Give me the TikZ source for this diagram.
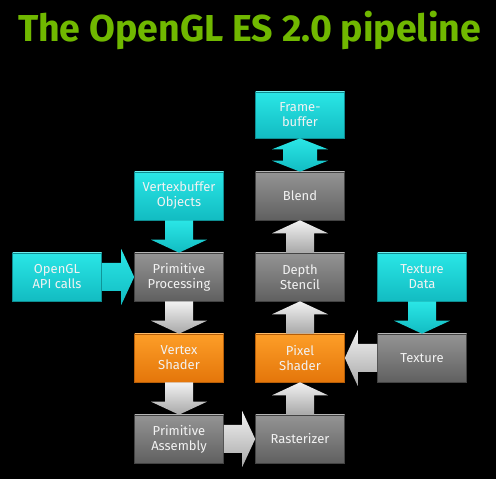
\documentclass[tikz,border=0pt]{standalone}
\usepackage{fontspec}
\setmainfont{Fira Sans}
\usetikzlibrary{positioning}
\usetikzlibrary{calc}
\definecolor{nvgreen}{RGB}{112,184,0}
\definecolor{cyanhi}{RGB}{42,230,230}
\definecolor{cyanlo}{RGB}{18,188,194}
\definecolor{grayhi}{RGB}{148,148,148}
\definecolor{graylo}{RGB}{96,96,96}
\definecolor{orangehi}{RGB}{253,158,40}
\definecolor{orangelo}{RGB}{228,118,10}
\definecolor{arrowhi}{RGB}{242,242,242}
\definecolor{arrowlo}{RGB}{168,168,168}
\definecolor{labeltext}{RGB}{242,242,242}
\tikzset{
stage/.style=
    { % Common look of every pipeline box
        rectangle,
        minimum width=89pt,
        minimum height=48pt,
        inner sep=1pt,
        align=center,
        text=labeltext,
        font=\fontsize{13}{15}\selectfont,
        line width=0.6pt,
        path picture={\draw[white,opacity=0.3,line width=2pt]
            (path picture bounding box.north west) -- (path picture bounding box.north east);}
    },
input/.style={stage, top color=cyanhi, bottom color=cyanlo, draw=cyanlo!75!black}, % Data fed in
fixed/.style={stage, top color=grayhi, bottom color=graylo, draw=graylo!70!black}, % Fixed function
shader/.style={stage, top color=orangehi, bottom color=orangelo, draw=orangelo!80!black}, % Programmable
fatpt/.style={shift={(\p1)}, rotate=\n1}, % Frame along the arrow
flow/.style={ % Block arrow from start to target
        draw=none,
        top color=arrowhi,
        bottom color=arrowlo,
        to path={let \p1=(\tikztostart), \p2=(\tikztotarget),
            \n1={atan2(\y2-\y1,\x2-\x1)}, \n2={veclen(\x2-\x1,\y2-\y1)} in
            ([fatpt]0,14) -- ([fatpt]\n2-13,14) -- ([fatpt]\n2-13,28) -- ([fatpt]\n2,0)
            -- ([fatpt]\n2-13,-28) -- ([fatpt]\n2-13,-14) -- ([fatpt]0,-14) -- cycle}
    },
feed/.style={flow, top color=cyanhi, bottom color=cyanlo}, % Cyan block arrow
swap/.style={ % Block arrow with two heads
        draw=none,
        top color=cyanhi,
        bottom color=cyanlo,
        to path={let \p1=(\tikztostart), \p2=(\tikztotarget),
            \n1={atan2(\y2-\y1,\x2-\x1)}, \n2={veclen(\x2-\x1,\y2-\y1)} in
            ([fatpt]0,0) -- ([fatpt]11,28) -- ([fatpt]11,17) -- ([fatpt]\n2-11,17)
            -- ([fatpt]\n2-11,28) -- ([fatpt]\n2,0) -- ([fatpt]\n2-11,-28)
            -- ([fatpt]\n2-11,-17) -- ([fatpt]11,-17) -- ([fatpt]11,-28) -- cycle}
    }
}
\begin{document}
\begin{tikzpicture}[x=1pt,y=1pt]
\fill[black] (0,0) rectangle (496,479);
\useasboundingbox (0,0) rectangle (496,479);
\node [font=\bfseries\fontsize{37.5}{42}\selectfont,text=nvgreen,anchor=base] (0) at (249.5,437) {The OpenGL ES 2.0 pipeline};
\node [input]                  (1) at (57,202)  {OpenGL\\API calls};
\node [input]                  (2) at (179,283) {Vertexbuffer\\Objects};
\node [fixed]                  (3) at (179,202) {Primitive\\Processing};
\node [shader]                 (4) at (179,121) {Vertex\\Shader};
\node [fixed]                  (5) at (179,40)  {Primitive\\Assembly};
\node [fixed]                  (6) at (300,40)  {Rasterizer};
\node [shader]                 (7) at (300,121) {Pixel\\Shader};
\node [fixed]                  (8) at (300,202) {Depth\\Stencil};
\node [fixed]                  (9) at (300,283) {Blend};
\node [input,minimum height=46pt] (10) at (300,364) {Frame-\\buffer};
\node [input]                  (11) at (422,202) {Texture\\Data};
\node [fixed]                  (12) at (422,121) {Texture};

\path
    (2.south) edge[feed] (3.north)
    (1.east) edge[feed] (3.west)
    (3.south) edge[flow] (4.north)
    (4.south) edge[flow] (5.north)
    (5.east) edge[flow] (6.west)
    (6.north) edge[flow] (7.south)
    (7.north) edge[flow] (8.south)
    (8.north) edge[flow] (9.south)
    (9.north) edge[swap] (10.south)
    (11.south) edge[feed] (12.north)
    (12.west) edge[flow] (7.east)
    ;
\end{tikzpicture}
\end{document}
